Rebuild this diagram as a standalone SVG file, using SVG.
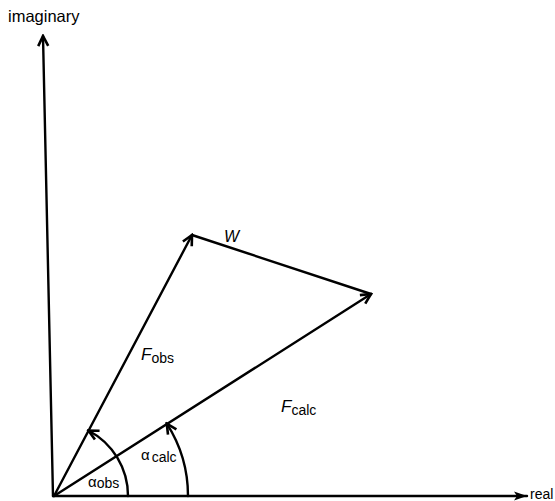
<svg xmlns="http://www.w3.org/2000/svg" width="555" height="501" viewBox="0 0 555 501">
<style>
.ln{stroke:#000;stroke-width:2.4;fill:none;stroke-linecap:round}
.t{font-family:"Liberation Sans",Arial,sans-serif;fill:#000}
</style>
<defs>
<marker id="ah" markerWidth="14" markerHeight="14" viewBox="-12 -7 14 14" refX="0" refY="0" orient="auto" markerUnits="userSpaceOnUse">
<path d="M-10,-5 L0,0 L-10,5" fill="none" stroke="#000" stroke-width="2.6" stroke-linejoin="miter"/>
</marker>
<marker id="ahf" markerWidth="16" markerHeight="12" viewBox="-14 -6 16 12" refX="0" refY="0" orient="auto" markerUnits="userSpaceOnUse">
<path d="M-13,-4.5 L0,0 L-13,4.5 L-10,0 Z" fill="#000"/>
</marker>
</defs>
<g id="connectors">
<line class="ln" x1="53" y1="496" x2="43" y2="36" marker-end="url(#ah)"/>
<line class="ln" x1="53" y1="496" x2="527" y2="496" marker-end="url(#ahf)"/>
<line class="ln" x1="54" y1="496" x2="192" y2="235" marker-end="url(#ah)"/>
<line class="ln" x1="54" y1="496" x2="371" y2="294" marker-end="url(#ah)"/>
<line class="ln" x1="192" y1="235" x2="371" y2="294"/>
<path class="ln" d="M128,496 A74,74 0 0 0 88.4,430.5" marker-end="url(#ah)"/>
<path class="ln" d="M188,496 A134,134 0 0 0 166.8,423.6" marker-end="url(#ah)"/>
</g>
<g id="imaginary"><text class="t" x="8" y="22" font-size="16.5">imaginary</text></g>
<g id="real"><text class="t" x="530" y="499" font-size="14">real</text></g>
<g id="W"><text class="t" x="224" y="242" font-size="16" font-style="italic">W</text></g>
<g id="Fobs"><text class="t" x="141" y="360" font-size="17" font-style="italic">F<tspan font-style="normal" font-size="14" dy="3">obs</tspan></text></g>
<g id="Fcalc"><text class="t" x="281" y="412" font-size="17" font-style="italic">F<tspan font-style="normal" font-size="14" dy="3">calc</tspan></text></g>
<g id="acalc"><text class="t" x="141" y="460" font-size="15">α<tspan font-size="14" dx="2" dy="2">calc</tspan></text></g>
<g id="aobs"><text class="t" x="88" y="487" font-size="15">α<tspan font-size="14" dy="1">obs</tspan></text></g>
</svg>
